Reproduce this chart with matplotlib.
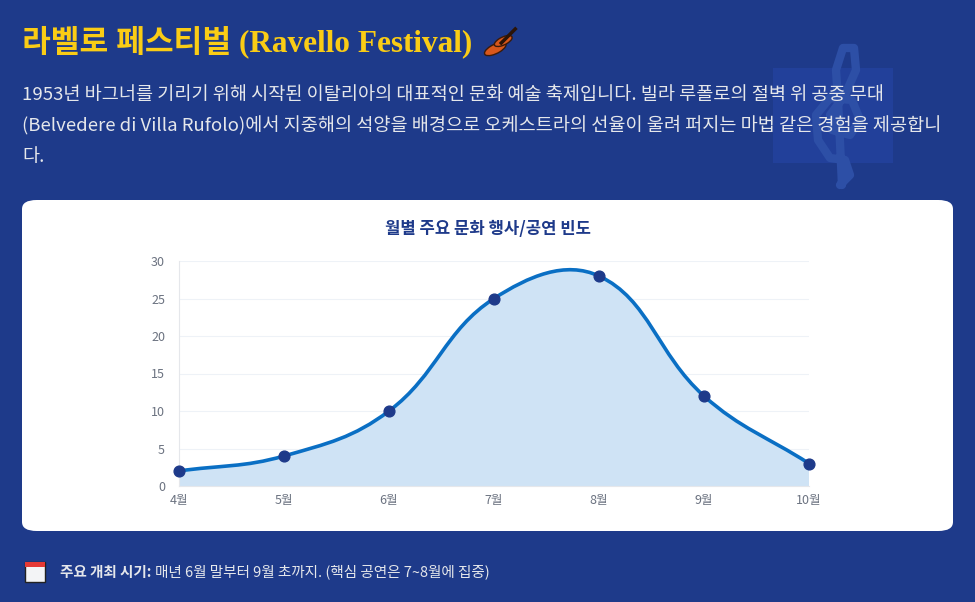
import matplotlib
matplotlib.use("Agg")
import matplotlib.pyplot as plt
from matplotlib.patches import FancyBboxPatch, Rectangle, PathPatch, Ellipse
from matplotlib.path import Path
import numpy as np

# data
months = ["4월", "5월", "6월", "7월", "8월", "9월", "10월"]
events = [2, 4, 10, 25, 28, 12, 3]
y_ticks = [0, 5, 10, 15, 20, 25, 30]

title = "라벨로 페스티벌 (Ravello Festival)"
desc_lines = [
    "1953년 바그너를 기리기 위해 시작된 이탈리아의 대표적인 문화 예술 축제입니다. 빌라 루폴로의 절벽 위 공중 무대",
    "(Belvedere di Villa Rufolo)에서 지중해의 석양을 배경으로 오케스트라의 선율이 울려 퍼지는 마법 같은 경험을 제공합니",
    "다.",
]
chart_title = "월별 주요 문화 행사/공연 빈도"
foot_bold = "주요 개최 시기:"
foot_text = "매년 6월 말부터 9월 초까지. (핵심 공연은 7~8월에 집중)"

BG = "#1e3a8a"
KR = ["Noto Sans CJK KR", "DejaVu Sans"]

W, H = 975, 602
fig = plt.figure(figsize=(W / 100, H / 100), dpi=100)
fig.patch.set_facecolor(BG)


def fx(px):
    return px / W


def fy(py):
    return 1 - py / H


# faint watermark: staff box with a rough treble clef shape
fig.patches.append(Rectangle((fx(773), fy(163)), fx(120), 95 / H, transform=fig.transFigure,
                             facecolor="#22409a", edgecolor="none", zorder=0))
clef_pts = [(840, 185), (850, 175), (845, 160), (830, 158), (818, 140), (816, 115),
            (830, 98), (852, 100), (860, 120), (850, 135), (832, 130), (830, 115),
            (845, 95), (856, 70), (854, 48), (843, 48), (836, 70), (838, 100), (842, 185)]
clef = Path([(fx(a), fy(b)) for a, b in clef_pts],
            [Path.MOVETO] + [Path.LINETO] * (len(clef_pts) - 1))
fig.patches.append(PathPatch(clef, transform=fig.transFigure, facecolor="none",
                             edgecolor="#2d4fa6", lw=6, zorder=0,
                             joinstyle="round", capstyle="round"))

# header texts
t_obj = fig.text(fx(22), fy(42), title, fontsize=22.5, fontweight="bold", color="#facc15",
                 ha="left", va="center", family=["Liberation Serif", "Noto Sans CJK KR"])
for i, line in enumerate(desc_lines):
    fig.text(fx(22), fy(95 + 31 * i), line, fontsize=13.4, color="#e5e7eb",
             ha="left", va="center", family=KR)

# violin icon next to title (emoji not in installed fonts)
fig.canvas.draw()
bb = t_obj.get_window_extent()
vx = bb.x1 + 28
vy = bb.y0 + bb.height / 2 - 2
for dx, dy, w, h in [(-5, -5, 13, 17), (3, 3, 11, 14)]:
    fig.patches.append(Ellipse((fx(vx + dx), (vy + dy) / H), fx(w), h / H, angle=-45,
                               transform=fig.transFigure, facecolor="#d9571b",
                               edgecolor="#3b1a0a", lw=1, zorder=3))
fig.lines.append(plt.Line2D([fx(vx + 1), fx(vx + 15)], [(vy + 1) / H, (vy + 15) / H],
                            transform=fig.transFigure, color="#2b1408", lw=2.5, zorder=4))

# white card
card = FancyBboxPatch((fx(22), fy(531)), fx(953 - 22), (531 - 200) / H,
                      boxstyle="round,pad=0,rounding_size=0.015",
                      transform=fig.transFigure, facecolor="white", edgecolor="none", zorder=1)
fig.patches.append(card)
fig.text(fx(488), fy(229), chart_title, fontsize=12, fontweight="bold", color="#1e3a8a",
         ha="center", va="center", family=KR, zorder=3)

# plot area
ax = fig.add_axes([fx(179), fy(486), fx(809 - 179), (486 - 261) / H])
ax.set_zorder(2)
ax.patch.set_alpha(0)
x = np.arange(len(events))
y = np.array(events, dtype=float)
ax.set_xlim(0, len(events) - 1)
ax.set_ylim(0, 30)

# Chart.js style bezier (tension 0.4), computed in pixel space
sx = (809 - 179) / (len(events) - 1)
sy = (486 - 261) / 30
px, py = x * sx, y * sy
t = 0.4
cps = []
for i in range(len(px)):
    p0 = (px[max(i - 1, 0)], py[max(i - 1, 0)])
    p1 = (px[i], py[i])
    p2 = (px[min(i + 1, len(px) - 1)], py[min(i + 1, len(px) - 1)])
    d01 = np.hypot(p1[0] - p0[0], p1[1] - p0[1])
    d12 = np.hypot(p2[0] - p1[0], p2[1] - p1[1])
    s01 = d01 / (d01 + d12) if d01 + d12 else 0
    s12 = d12 / (d01 + d12) if d01 + d12 else 0
    fa, fb = t * s01, t * s12
    prev = (p1[0] - fa * (p2[0] - p0[0]), p1[1] - fa * (p2[1] - p0[1]))
    nxt = (p1[0] + fb * (p2[0] - p0[0]), p1[1] + fb * (p2[1] - p0[1]))
    cps.append((prev, nxt))

verts = [(x[0], y[0])]
codes = [Path.MOVETO]
for i in range(len(x) - 1):
    c1 = cps[i][1]
    c2 = cps[i + 1][0]
    verts += [(c1[0] / sx, c1[1] / sy), (c2[0] / sx, c2[1] / sy), (x[i + 1], y[i + 1])]
    codes += [Path.CURVE4] * 3

fill_verts = verts + [(x[-1], 0), (x[0], 0), (x[0], y[0])]
fill_codes = codes + [Path.LINETO, Path.LINETO, Path.CLOSEPOLY]
ax.add_patch(PathPatch(Path(fill_verts, fill_codes), facecolor="#cfe3f5", edgecolor="none", zorder=1))
ax.add_patch(PathPatch(Path(verts, codes), facecolor="none", edgecolor="#0a6fc4", lw=2.6, zorder=3))
ax.scatter(x, y, s=60, color="#1e3a8a", zorder=4, clip_on=False)

ax.set_xticks(x)
ax.set_xticklabels(months, family=KR)
ax.set_yticks(y_ticks)
ax.tick_params(axis="both", length=0, labelsize=9, colors="#6b7280", pad=6)
ax.tick_params(axis="y", pad=10)
for lab in ax.get_yticklabels():
    lab.set_family(KR)
ax.grid(axis="y", color="#eef2f7", lw=0.8, zorder=0)
ax.set_axisbelow(True)
for s in ["top", "right"]:
    ax.spines[s].set_visible(False)
ax.spines["left"].set_color("#e5e7eb")
ax.spines["bottom"].set_color("#e5e7eb")

# footer calendar icon
fig.patches.append(Rectangle((fx(25), fy(582)), fx(20), 20 / H, transform=fig.transFigure,
                             facecolor="#f3f4f6", edgecolor="#222222", lw=1, zorder=2))
fig.patches.append(Rectangle((fx(25), fy(567)), fx(20), 5 / H, transform=fig.transFigure,
                             facecolor="#e53935", edgecolor="none", zorder=3))
fb_obj = fig.text(fx(60), fy(572), foot_bold, fontsize=10.5, fontweight="bold", color="#e5e7eb",
                  ha="left", va="center", family=KR)
fig.canvas.draw()
fbb = fb_obj.get_window_extent()
fig.text((fbb.x1 + 4) / W, fy(572), foot_text, fontsize=10.5, color="#e5e7eb",
         ha="left", va="center", family=KR)

fig.savefig("out.png", dpi=100, facecolor=BG)
